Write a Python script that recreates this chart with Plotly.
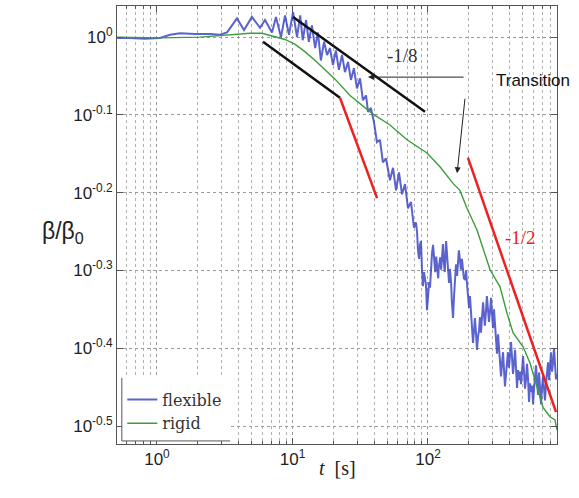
import numpy as np
import plotly.graph_objects as go

# ---- data: time t [s] and log10(beta/beta0) ----
# flexible, early part (t < 80 s)
t_flex_a = [0.507, 0.632, 0.815, 1.05, 1.25, 1.48, 1.91, 2.46, 2.92, 3.29,
            3.58, 3.89, 4.39, 5.02, 5.76, 6.27, 7.06, 7.55, 8.23, 8.81,
            9.42, 10.1, 10.8, 11.4, 11.9, 12.6, 13.2, 13.9, 14.7, 15.4,
            16.2, 17.1, 18.0, 18.9, 19.9, 20.9, 22.0, 23.2, 24.4, 25.7,
            27.0, 28.4, 29.9, 31.5, 33.1, 34.9, 36.1, 37.9, 39.9, 42.0,
            44.2, 46.5, 49.0, 52.4, 55.2, 58.1, 61.1, 64.3, 67.7, 71.2,
            74.9, 78.8]
logb_flex_a = [-0.001, -0.001, -0.002, -0.001, 0.003, 0.005, 0.004, 0.004, 0.003, 0.006,
               0.015, 0.024, 0.009, 0.026, 0.012, 0.022, 0.006, 0.026, 0.000, 0.028,
               0.003, 0.032, 0.000, 0.028, -0.004, 0.022, -0.006, 0.015, -0.014, 0.006,
               -0.030, -0.006, -0.023, -0.014, -0.036, -0.017, -0.042, -0.023, -0.045, -0.032,
               -0.055, -0.040, -0.066, -0.053, -0.081, -0.075, -0.096, -0.091, -0.109, -0.135,
               -0.132, -0.161, -0.156, -0.184, -0.168, -0.197, -0.174, -0.202, -0.189, -0.220,
               -0.212, -0.245]
# flexible, noisy late part (t >= 80 s)
t_flex_b = [81.5, 83.0, 84.4, 85.9, 87.3, 88.8, 90.3, 91.8, 93.4, 96.6,
            98.3, 100, 102, 103.5, 105, 107, 109, 111, 113, 115,
            117, 119, 120, 123, 125, 127, 129, 131, 133, 136,
            138, 141, 143, 145, 148, 150, 153, 156, 158, 161,
            164, 166, 169, 172, 175, 178, 181, 184, 188, 191,
            194, 197, 201, 204, 208, 211, 215, 218, 222, 226,
            230, 234, 238, 242, 246, 250, 255, 259, 263, 268,
            272, 277, 282, 287, 292, 297, 302, 307, 312, 318,
            323, 329, 334, 340, 346, 352, 358, 364, 370, 377,
            383, 389, 396, 403, 410, 417, 424, 431, 439, 446,
            454, 462, 470, 478, 486, 494, 503, 511, 520, 529,
            538, 547, 557, 566, 576, 586, 596, 606, 617, 627,
            638, 649, 660, 671, 683, 694, 706, 718, 730, 743,
            755, 769, 782, 795, 809, 822, 836, 851, 865, 880, 895]
logb_flex_b = [-0.238, -0.250, -0.274, -0.285, -0.267, -0.262, -0.299, -0.320, -0.302, -0.318,
               -0.351, -0.330, -0.315, -0.322, -0.299, -0.278, -0.267, -0.288, -0.302, -0.282,
               -0.294, -0.310, -0.297, -0.283, -0.299, -0.285, -0.266, -0.290, -0.302, -0.262,
               -0.276, -0.300, -0.316, -0.298, -0.315, -0.340, -0.361, -0.330, -0.310, -0.292,
               -0.307, -0.288, -0.274, -0.286, -0.299, -0.285, -0.297, -0.310, -0.312, -0.300,
               -0.317, -0.335, -0.348, -0.333, -0.353, -0.370, -0.393, -0.380, -0.361, -0.380,
               -0.402, -0.385, -0.377, -0.360, -0.380, -0.362, -0.341, -0.357, -0.371, -0.352,
               -0.333, -0.350, -0.366, -0.352, -0.335, -0.356, -0.374, -0.350, -0.366, -0.385,
               -0.407, -0.382, -0.397, -0.412, -0.436, -0.418, -0.405, -0.428, -0.449, -0.432,
               -0.420, -0.405, -0.425, -0.410, -0.392, -0.412, -0.433, -0.420, -0.402, -0.425,
               -0.451, -0.428, -0.441, -0.430, -0.446, -0.430, -0.410, -0.430, -0.452, -0.440,
               -0.420, -0.438, -0.469, -0.445, -0.456, -0.448, -0.472, -0.452, -0.436, -0.422,
               -0.443, -0.460, -0.431, -0.455, -0.472, -0.450, -0.436, -0.452, -0.467, -0.445,
               -0.428, -0.418, -0.441, -0.425, -0.405, -0.430, -0.420, -0.400, -0.418, -0.440, -0.433]

t_rigid = [0.507, 1.05, 2.08, 3.46, 4.86, 5.96, 7.43, 8.81, 10.4, 12.4,
           14.7, 16.8, 20.6, 26.6, 38.6, 52.4, 70.0, 98.3, 123, 153,
           172, 194, 230, 287, 340, 383, 424, 503, 566, 638,
           706, 794, 865, 895]
logb_rigid = [0.000, -0.001, 0.000, 0.003, 0.005, 0.005, 0.001, -0.003, -0.009, -0.019,
              -0.030, -0.040, -0.054, -0.075, -0.098, -0.113, -0.132, -0.149, -0.167, -0.188,
              -0.197, -0.220, -0.248, -0.299, -0.321, -0.355, -0.380, -0.398, -0.419, -0.450,
              -0.476, -0.488, -0.492, -0.505]

# reference slope lines (t, log10 beta)
slope8_upper_t = [10.1, 95.0]
slope8_upper_lb = [0.026, -0.096]
slope8_lower_t = [6.06, 22.4]
slope8_lower_lb = [-0.006, -0.078]
slope2_left_t = [22.4, 42.1]
slope2_left_lb = [-0.078, -0.207]
slope2_right_t = [197, 881]
slope2_right_lb = [-0.155, -0.482]

x_tickvals = [1, 10, 100]
x_ticktext = ["10<sup>0</sup>", "10<sup>1</sup>", "10<sup>2</sup>"]
y_tickexp = [-0.5, -0.4, -0.3, -0.2, -0.1, 0]
y_ticktext = ["10<sup>-0.5</sup>", "10<sup>-0.4</sup>", "10<sup>-0.3</sup>",
              "10<sup>-0.2</sup>", "10<sup>-0.1</sup>", "10<sup>0</sup>"]
minor_x = [m * d for d in (0.1, 1, 10, 100) for m in range(2, 10) if 0.5 <= m * d <= 900]

t_flex = t_flex_a + t_flex_b
logb_flex = logb_flex_a + logb_flex_b


def lin(v):
    return [10 ** e for e in v]


fig = go.Figure()
fig.add_trace(go.Scatter(x=t_flex, y=lin(logb_flex), mode="lines", name="flexible",
                         line=dict(color="rgba(50,60,195,0.8)", width=2)))
fig.add_trace(go.Scatter(x=t_rigid, y=lin(logb_rigid), mode="lines", name="rigid",
                         line=dict(color="#3b9d3b", width=1.4)))
for tx, ly, col in [(slope8_upper_t, slope8_upper_lb, "#111111"),
                    (slope8_lower_t, slope8_lower_lb, "#111111"),
                    (slope2_left_t, slope2_left_lb, "#ee2020"),
                    (slope2_right_t, slope2_right_lb, "#ee2020")]:
    fig.add_trace(go.Scatter(x=tx, y=lin(ly), mode="lines", showlegend=False,
                             line=dict(color=col, width=2.5), hoverinfo="skip"))

sans = "Liberation Sans, Arial, sans-serif"
serif = "Liberation Serif, DejaVu Serif, serif"
axis_common = dict(type="log", showline=True, linecolor="#555", linewidth=1, mirror="ticks",
                   ticks="inside", ticklen=6, tickcolor="#555", showgrid=True,
                   gridcolor="#9a9a9a", griddash="dot", gridwidth=1, zeroline=False,
                   tickfont=dict(family=sans, size=17, color="#222"))
fig.update_xaxes(range=[-0.295, 2.952], tickvals=x_tickvals, ticktext=x_ticktext,
                 minor=dict(tickvals=minor_x, ticks="inside", ticklen=3, tickcolor="#555",
                            showgrid=True, gridcolor="#b0b0b0", griddash="dot", gridwidth=1),
                 **axis_common)
fig.update_yaxes(range=[-0.523, 0.040], tickvals=[10 ** e for e in y_tickexp],
                 ticktext=y_ticktext, **axis_common)

ann = []
ann.append(dict(x=np.log10(36.1), y=-0.0514, xref="x", yref="y", ax=97, ay=0,
                axref="pixel", ayref="pixel", text="", showarrow=True, arrowhead=2,
                arrowsize=1.2, arrowwidth=1, arrowcolor="#222"))
ann.append(dict(x=np.log10(164), y=-0.175, xref="x", yref="y", ax=8, ay=-76,
                text="", showarrow=True, arrowhead=2, arrowsize=1.2, arrowwidth=1,
                arrowcolor="#222"))
ann.append(dict(x=np.log10(596), y=-0.0553, xref="x", yref="y", text="Transition",
                showarrow=False, font=dict(family=sans, size=17, color="#111")))
ann.append(dict(x=1.815, y=-0.023, xref="x", yref="y", text="-1/8", showarrow=False,
                font=dict(family=serif, size=19, color="#333")))
ann.append(dict(x=2.679, y=-0.258, xref="x", yref="y", text="-1/2", showarrow=False,
                font=dict(family=serif, size=19, color="#ee2020")))
ann.append(dict(x=-0.175, y=0.482, xref="paper", yref="paper", text="β/β<sub>0</sub>",
                showarrow=False, font=dict(family=sans, size=23, color="#222")))
ann.append(dict(x=0.502, y=-0.085, xref="paper", yref="paper", text="<i>t</i>  [s]",
                showarrow=False, font=dict(family=serif, size=20, color="#222")))

shapes = [
    dict(type="rect", xref="paper", yref="paper", x0=0.011, x1=0.257, y0=0.007, y1=0.151,
         fillcolor="white", line=dict(width=0), layer="above"),
    dict(type="line", xref="paper", yref="paper", x0=0.011, x1=0.011, y0=0.007, y1=0.151,
         line=dict(color="#555", width=1), layer="above"),
    dict(type="line", xref="paper", yref="paper", x0=0.011, x1=0.257, y0=0.007, y1=0.007,
         line=dict(color="#555", width=1), layer="above"),
]

fig.update_layout(width=579, height=498, margin=dict(l=117, r=22, t=6, b=54),
                  plot_bgcolor="white", paper_bgcolor="white",
                  annotations=ann, shapes=shapes,
                  legend=dict(x=0.012, y=0.008, xanchor="left", yanchor="bottom",
                              bgcolor="rgba(0,0,0,0)", borderwidth=0,
                              font=dict(family="DejaVu Serif, serif", size=16, color="#333"),
                              itemwidth=30, tracegroupgap=0))
fig.write_html("out.html")
